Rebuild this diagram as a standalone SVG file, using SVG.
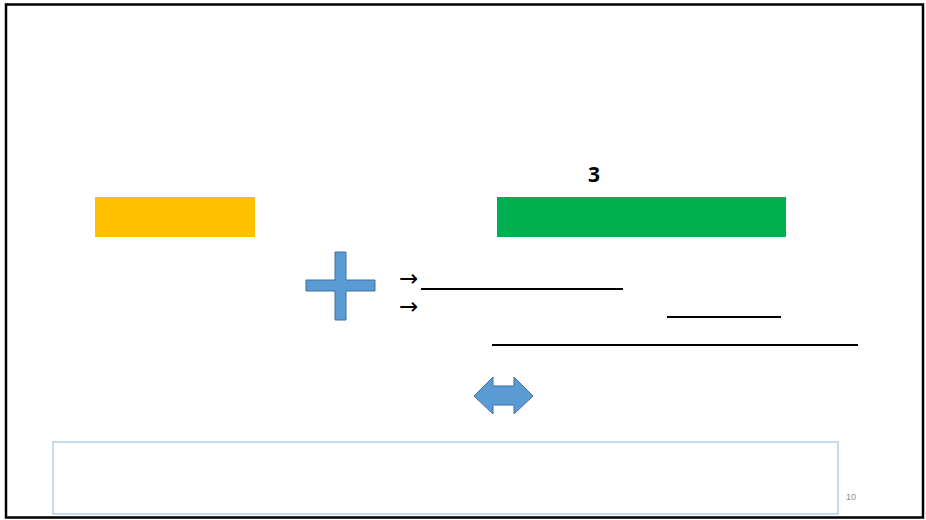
<svg xmlns="http://www.w3.org/2000/svg" width="926" height="520" viewBox="0 0 926 520">
<style>
.line{stroke:#000;stroke-width:2;fill:none}
.shape{fill:#5b9bd5;stroke:#41719c;stroke-width:1}
.t{font-family:"Liberation Sans",Arial,sans-serif}
.arr{font-family:"DejaVu Sans",sans-serif;font-size:23px}
</style>
<rect x="0" y="0" width="926" height="520" fill="#fff"/>
<rect x="6" y="4.5" width="917" height="513" fill="none" stroke="#000" stroke-width="2.5"/>
<g id="num3"><text x="594" y="182" font-size="21" font-weight="bold" text-anchor="middle" font-family="'Open Sans','Liberation Sans',sans-serif">3</text></g>
<g id="orange"><rect x="95" y="197" width="160" height="40" fill="#ffc000"/></g>
<g id="green"><rect x="497" y="197" width="289" height="40" fill="#00b050"/></g>
<g id="plus"><path class="shape" d="M335,252 H346 V280 H375 V291 H346 V320 H335 V291 H306 V280 H335 Z"/></g>
<g id="arrows">
<text x="399" y="286" class="arr">→</text>
<text x="399" y="314" class="arr">→</text>
</g>
<g id="blanks">
<line class="line" x1="421" y1="289" x2="623" y2="289"/>
<line class="line" x1="667" y1="317" x2="781" y2="317"/>
<line class="line" x1="492" y1="345" x2="858" y2="345"/>
</g>
<g id="dblarrow"><path class="shape" d="M474,396 L493,377 V386 H514 V377 L533,396 L514,414 V405 H493 V414 Z"/></g>
<g id="box"><rect x="53" y="442" width="785" height="72" fill="#fff" stroke="#9dc3e6" stroke-width="1.2"/></g>
<g id="page"><text x="846" y="500" class="t" font-size="9" fill="#8c8c8c">10</text></g>
</svg>
